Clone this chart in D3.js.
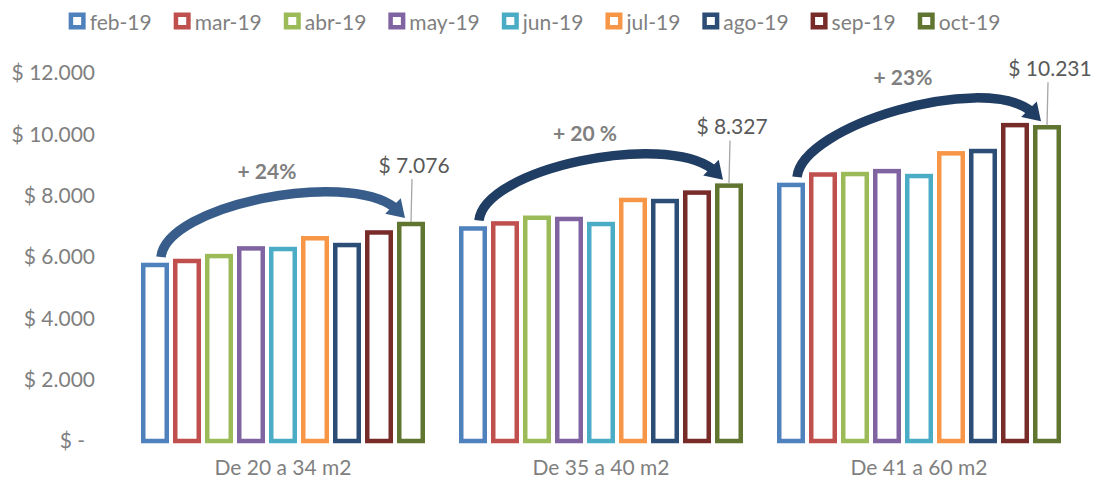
<!DOCTYPE html>
<html>
<head>
<meta charset="utf-8">
<script src="https://cdn.jsdelivr.net/npm/d3@7.9.0/dist/d3.min.js"></script>
<style>
  html, body { margin: 0; padding: 0; background: #fff; }
  svg text { font-family: Lato, "Liberation Sans", sans-serif; }
</style>
</head>
<body>
<svg id="chart" width="1099" height="486"></svg>
<script>
// ---------- DATA ----------
const categories = ["De 20 a 34 m2", "De 35 a 40 m2", "De 41 a 60 m2"];
const months = ["feb-19", "mar-19", "abr-19", "may-19", "jun-19", "jul-19", "ago-19", "sep-19", "oct-19"];

// price per group, one value per month (feb..oct)
const de20a34 = [5740, 5870, 6030, 6280, 6260, 6610, 6390, 6800, 7076];
const de35a40 = [6930, 7095, 7280, 7240, 7075, 7860, 7825, 8100, 8327];
const de41a60 = [8350, 8690, 8705, 8800, 8640, 9380, 9455, 10300, 10231];

const growthLabels = ["+ 24%", "+ 20 %", "+ 23%"];
const yTicks = [0, 2000, 4000, 6000, 8000, 10000, 12000];

const colors = ["#4F81BD", "#C0504D", "#9BBB59", "#8064A2", "#4BACC6", "#F79646", "#2C4D75", "#772C2A", "#5F7530"];
const arrowColors = ["#385D8A", "#203D63", "#203D63"];

const groups = categories.map((c, i) => ({
  name: c,
  values: [de20a34, de35a40, de41a60][i],
  growth: growthLabels[i]
}));

// ---------- LAYOUT ----------
const svg = d3.select("#chart");
const plot = { left: 124, right: 1078, top: 73, bottom: 441 };
const sw = 4.5;
const textGray = "#7F7F7F";
const fontSize = 21;

const x0 = d3.scaleBand().domain(categories).range([plot.left, plot.right]);
const x1 = d3.scaleBand().domain(months)
  .range([17, x0.bandwidth() - 17])
  .paddingInner(0.125).paddingOuter(0);
const y = d3.scaleLinear().domain([0, 12000]).range([plot.bottom, plot.top]);

const fmt = v => v === 0 ? "$ -" : "$ " + d3.format(",")(v).replace(/,/g, ".");

// ---------- Y AXIS (labels only) ----------
const yAxis = d3.axisLeft(y).tickValues(yTicks).tickFormat(fmt).tickSize(0).tickPadding(0);
const yG = svg.append("g").attr("transform", `translate(95,0)`).call(yAxis);
yG.select(".domain").remove();
yG.selectAll("text")
  .attr("fill", textGray)
  .attr("font-size", fontSize)
  .style("font-family", "Lato, 'Liberation Sans', sans-serif");
yG.selectAll(".tick").filter(d => d === 0).select("text").attr("dx", -10);

// ---------- X AXIS (category labels) ----------
const xAxis = d3.axisBottom(x0).tickSize(0).tickPadding(0);
const xG = svg.append("g").attr("transform", `translate(0,${plot.bottom + 19})`).call(xAxis);
xG.select(".domain").remove();
xG.selectAll("text")
  .attr("fill", textGray)
  .attr("font-size", fontSize)
  .style("font-family", "Lato, 'Liberation Sans', sans-serif");

// ---------- BARS ----------
const gGroups = svg.selectAll("g.grp")
  .data(groups)
  .join("g")
  .attr("class", "grp")
  .attr("transform", d => `translate(${x0(d.name)},0)`);

gGroups.selectAll("rect")
  .data(d => d.values.map((v, i) => ({ month: months[i], value: v, i })))
  .join("rect")
  .attr("x", d => x1(d.month) + sw / 2)
  .attr("y", d => y(d.value))
  .attr("width", x1.bandwidth() - sw)
  .attr("height", d => y(0) - y(d.value))
  .attr("fill", "#fff")
  .attr("stroke", d => colors[d.i])
  .attr("stroke-width", sw);

// ---------- ARROWS ----------
gGroups.each(function (d, gi) {
  const g = d3.select(this);
  const first = d.values[0];
  const last = d.values[d.values.length - 1];
  const cxFirst = x1(months[0]) + x1.bandwidth() / 2;
  const cxLast = x1(months[months.length - 1]) + x1.bandwidth() / 2;

  const tail = [cxFirst + 6, y(first) - 8];
  const tip = [cxLast - 6, y(last) - 6];

  // direction of the head
  const ux = Math.SQRT1_2, uy = Math.SQRT1_2;
  const headLen = 17, headHalf = 11;
  const base = [tip[0] - ux * headLen, tip[1] - uy * headLen];
  const c1 = [tail[0] + 6, tail[1] - 52];
  const c2 = [base[0] - 48, base[1] - 36];

  const p = d3.path();
  p.moveTo(tail[0], tail[1]);
  p.bezierCurveTo(c1[0], c1[1], c2[0], c2[1], base[0] + ux * 2, base[1] + uy * 2);
  const arc = g.append("path")
    .attr("d", p.toString())
    .attr("fill", "none")
    .attr("stroke", arrowColors[gi])
    .attr("stroke-width", 9.5);

  const nx = -uy, ny = ux;
  const head = [
    tip,
    [base[0] + nx * headHalf, base[1] + ny * headHalf],
    [base[0] - nx * headHalf, base[1] - ny * headHalf]
  ];
  g.append("path")
    .attr("d", d3.line()(head) + "Z")
    .attr("fill", arrowColors[gi]);

  // growth label above the arc peak
  const peak = arc.node().getBBox().y;
  g.append("text")
    .attr("x", x0.bandwidth() / 2 - 16)
    .attr("y", peak - 21)
    .attr("text-anchor", "middle")
    .attr("dominant-baseline", "central")
    .attr("font-size", fontSize)
    .attr("font-weight", "bold")
    .attr("fill", textGray)
    .text(d.growth);

  // value label + leader line for last month
  const ly = y(last) - 60;
  g.append("line")
    .attr("x1", cxLast + 1).attr("x2", cxLast)
    .attr("y1", ly + 15).attr("y2", y(last) - 2)
    .attr("stroke", "#A6A6A6")
    .attr("stroke-width", 1.3);
  g.append("text")
    .attr("x", cxLast + 3)
    .attr("y", ly)
    .attr("text-anchor", "middle")
    .attr("dominant-baseline", "central")
    .attr("font-size", fontSize)
    .attr("fill", "#595959")
    .text(fmt(last));
});

// ---------- LEGEND ----------
const legend = svg.append("g").attr("transform", "translate(0,21)");
const items = legend.selectAll("g")
  .data(months)
  .join("g");
items.append("rect")
  .attr("x", sw / 2).attr("y", -8.5 + sw / 2)
  .attr("width", 17 - sw).attr("height", 17 - sw)
  .attr("fill", "#fff")
  .attr("stroke", (d, i) => colors[i])
  .attr("stroke-width", sw);
items.append("text")
  .attr("x", 21)
  .attr("dominant-baseline", "central")
  .attr("font-size", fontSize)
  .attr("fill", textGray)
  .text(d => d);

let lx = 0;
const offsets = [];
items.each(function () {
  offsets.push(lx);
  lx += 21 + this.querySelector("text").getComputedTextLength() + 22;
});
const totalW = lx - 22;
const startX = 534.5 - totalW / 2;
items.attr("transform", (d, i) => `translate(${startX + offsets[i]},0)`);
</script>
</body>
</html>
